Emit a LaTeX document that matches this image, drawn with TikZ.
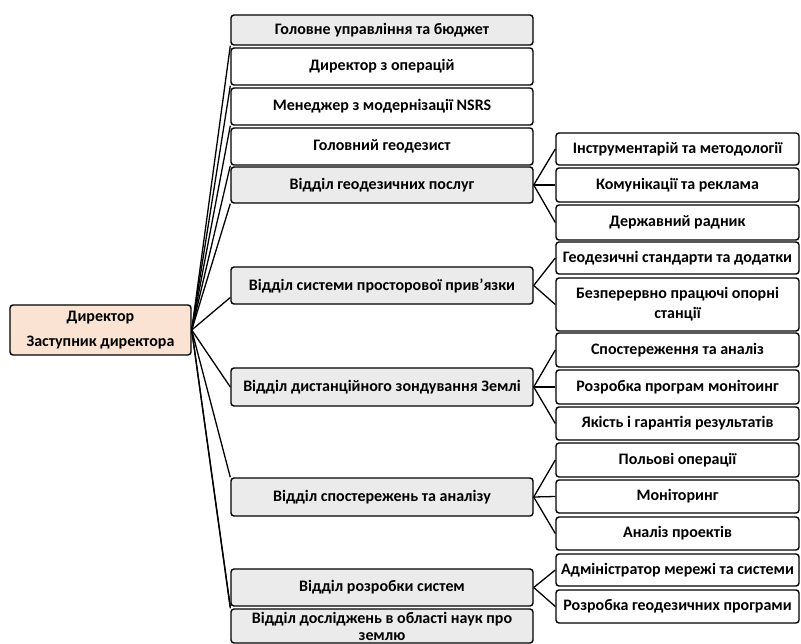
\documentclass[tikz,border=0pt]{standalone}
\usepackage{fontspec}
\setmainfont{Carlito}
\definecolor{peach}{HTML}{FBE3D3}

\begin{document}
\begin{tikzpicture}[x=1pt,y=-1pt,
  box/.style={draw,rounded corners=3pt,line width=1.4pt,inner sep=0,align=center,font=\fontsize{16}{17}\bfseries\selectfont},
  dept/.style={box,fill=black!8,minimum width=302pt},
  plain/.style={box,fill=white,minimum width=302pt},
  sub/.style={box,fill=white,minimum width=243pt},
  link/.style={line width=1.3pt}]
\useasboundingbox (0,0) rectangle (801,644);

\node[box,fill=peach,minimum width=181pt,minimum height=50pt] (dir) at (100.5,330) {Директор\\[8pt]Заступник директора};

\node[dept,minimum height=30pt] (b1) at (382,30) {Головне управління та бюджет};
\node[plain,minimum height=37pt] (b2) at (382,66.5) {Директор з операцій};
\node[plain,minimum height=37pt] (b3) at (382,106.5) {Менеджер з модернізації NSRS};
\node[plain,minimum height=37pt] (b4) at (382,146.5) {Головний геодезист};
\node[dept,minimum height=36pt] (b5) at (382,185) {Відділ геодезичних послуг};
\node[dept,minimum height=37pt] (b6) at (382,285.5) {Відділ системи просторової прив'язки};
\node[dept,minimum height=38pt] (b7) at (382,387) {Відділ дистанційного зондування Землі};
\node[dept,minimum height=38pt] (b8) at (382,497) {Відділ спостережень та аналізу};
\node[dept,minimum height=37pt] (b9) at (382,587.5) {Відділ розробки систем};
\node[dept,minimum height=34pt] (b10) at (382,626) {Відділ досліджень в області наук про\\землю};

\node[sub,minimum height=32pt] (r1) at (677.5,149) {Інструментарій та методології};
\node[sub,minimum height=34pt] (r2) at (677.5,185) {Комунікації та реклама};
\node[sub,minimum height=35pt] (r3) at (677.5,222.5) {Державний радник};
\node[sub,minimum height=32pt] (r4) at (677.5,258) {Геодезичні стандарти та додатки};
\node[sub,minimum height=53pt] (r5) at (677.5,304.5) {Безперервно працючі опорні\\[3pt]станції};
\node[sub,minimum height=34pt] (r6) at (677.5,350) {Спостереження та аналіз};
\node[sub,minimum height=34pt] (r7) at (677.5,387) {Розробка програм монітоинг};
\node[sub,minimum height=33pt] (r8) at (677.5,423.5) {Якість і гарантія результатів};
\node[sub,minimum height=34pt] (r9) at (677.5,460) {Польові операції};
\node[sub,minimum height=33pt] (r10) at (677.5,496.5) {Моніторинг};
\node[sub,minimum height=33pt] (r11) at (677.5,533.5) {Аналіз проектів};
\node[sub,minimum height=32pt] (r12) at (677.5,570) {Адміністратор мережі та системи};
\node[sub,minimum height=33pt] (r13) at (677.5,606.5) {Розробка геодезичних програми};

% director to departments
\draw[link] (dir.east) -- (b1.south west);
\draw[link] (dir.east) -- (b2.south west);
\draw[link] (dir.east) -- (b3.south west);
\draw[link] (dir.east) -- (b4.south west);
\draw[link] (dir.east) -- (b5.south west);
\draw[link] (dir.east) -- ([yshift=-12pt]b6.west);
\draw[link] (dir.east) -- (b7.west);
\draw[link] (dir.east) -- (b8.north west);
\draw[link] (dir.east) -- (b9.south west);
\draw[link] (dir.east) -- (b10.north west);

% departments to units
\draw[link] (b5.east) -- (r1.west);
\draw[link] (b5.east) -- (r2.west);
\draw[link] (b5.east) -- (r3.west);
\draw[link] (b6.east) -- (r4.west);
\draw[link] (b6.east) -- (r5.west);
\draw[link] (b7.east) -- (r6.west);
\draw[link] (b7.east) -- (r7.west);
\draw[link] (b7.east) -- (r8.west);
\draw[link] (b8.east) -- (r9.west);
\draw[link] (b8.east) -- (r10.west);
\draw[link] (b8.east) -- (r11.west);
\draw[link] (b9.east) -- (r12.west);
\draw[link] (b9.east) -- (r13.west);
\end{tikzpicture}
\end{document}
